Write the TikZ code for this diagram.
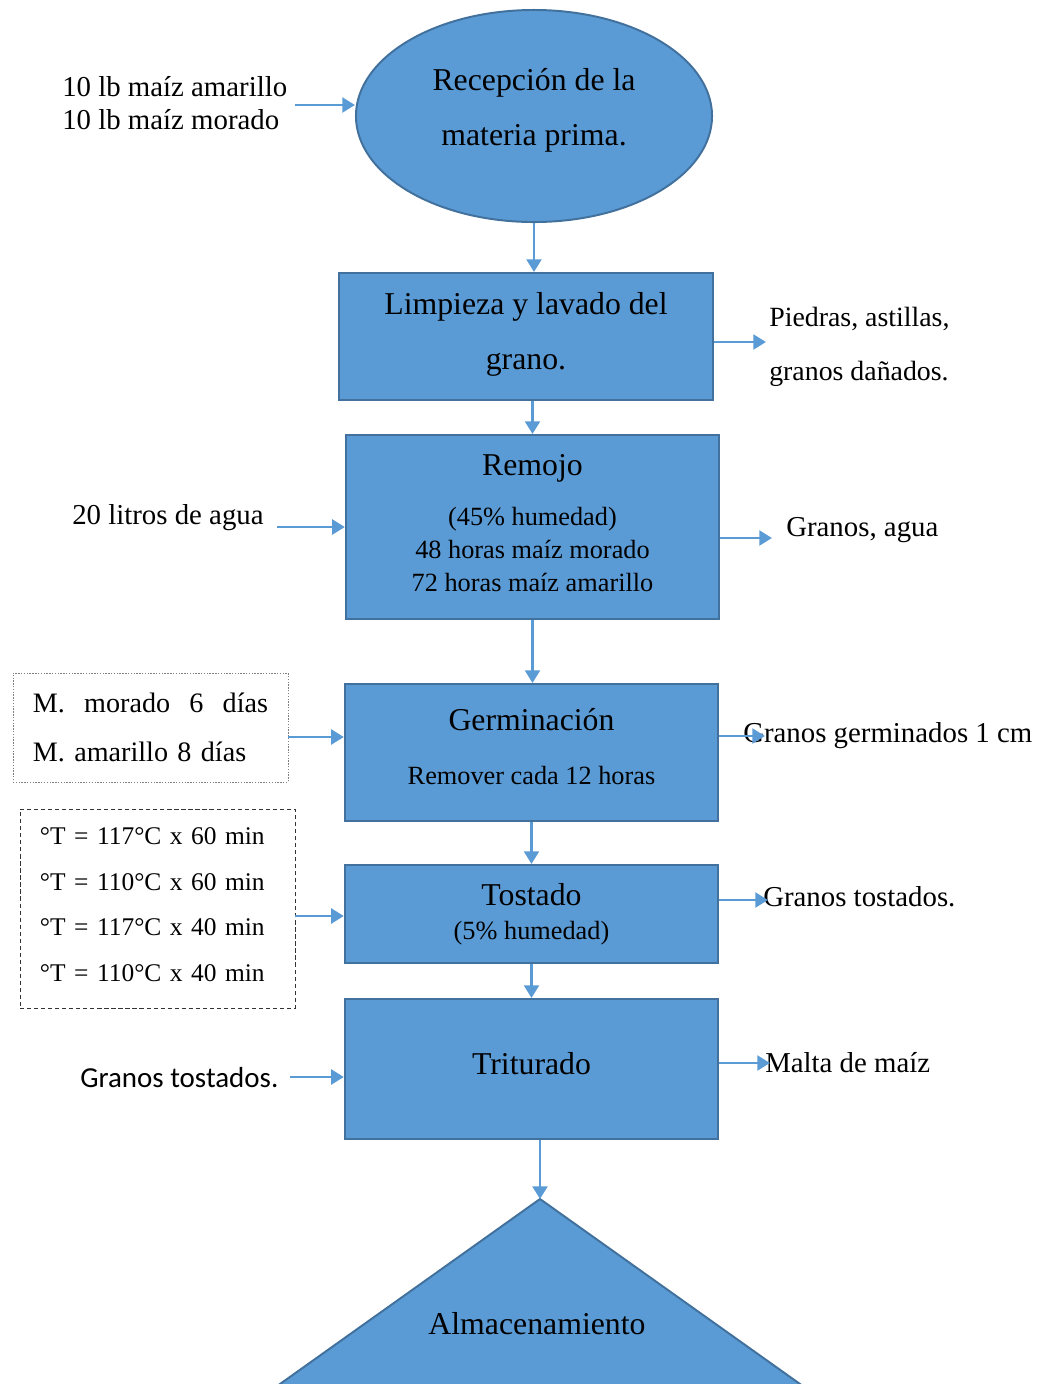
\documentclass[tikz,border=0pt]{standalone}
\usepackage{fontspec}
\setmainfont{Liberation Serif}
\newfontfamily\calibrifont{Carlito}
\usetikzlibrary{shapes.geometric,arrows.meta}
\definecolor{boxfill}{HTML}{5B9BD5}
\definecolor{boxline}{HTML}{41719C}
\definecolor{flowc}{HTML}{5B9BD5}
\newcommand{\mainsize}{\fontsize{22.6}{39}\selectfont}
\newcommand{\subsize}{\fontsize{18.7}{23.4}\selectfont}
\newcommand{\sidesize}{\fontsize{20.5}{24}\selectfont}

\tikzset{
  proc/.style={draw=boxline, fill=boxfill, line width=1.4pt, align=center, inner sep=0pt, minimum width=9.33cm},
  flow/.style={draw=flowc, line width=2pt, -{Triangle[length=9pt,width=10.5pt]}},
  side/.style={anchor=west, align=left, inner sep=0pt, font=\sidesize},
}

\begin{document}
\begin{tikzpicture}[x=0.025cm,y=-0.025cm]
\useasboundingbox (0,0) rectangle (1042,1384);

% etapas del proceso
\node[proc, ellipse, minimum width=8.9cm, minimum height=5.3cm, font=\mainsize, text depth=13.4pt] (rec) at (534,116) {Recepción de la\\materia prima.};
\node[proc, minimum width=9.35cm, minimum height=3.175cm, font=\mainsize, text depth=7.7pt] (limp) at (526,336.5) {Limpieza y lavado del\\grano.};
\node[proc, minimum height=4.6cm, font=\subsize, text depth=5.7pt] (rem) at (532.5,527) {{\mainsize Remojo}\\[12.6pt](45\% humedad)\\48 horas maíz morado\\72 horas maíz amarillo};
\node[proc, minimum height=3.425cm, font=\subsize, text depth=8.5pt] (germ) at (531.5,752.5) {{\mainsize Germinación}\\[14.6pt]Remover cada 12 horas};
\node[proc, minimum height=2.45cm, font=\subsize] (tost) at (531.5,914) {{\mainsize Tostado}\\[0.6pt](5\% humedad)};
\node[proc, minimum height=3.5cm, font=\mainsize, text depth=8.5pt] (trit) at (531.5,1069) {Triturado};

\coordinate (almtop) at (540,1199);
\filldraw[fill=boxfill, draw=boxline, line width=1.4pt] (almtop) -- (850.6,1420) -- (229.4,1420) -- cycle;
\node[font=\mainsize] (alm) at (537,1324) {Almacenamiento};

% entradas y salidas
\node[side] (in1) at (62,103) {10 lb maíz amarillo\\10 lb maíz morado};
\node[side, font=\fontsize{19.8}{38}\selectfont] (out1) at (769,347) {Piedras, astillas,\\granos dañados.};
\node[side] (in2) at (72,518) {20 litros de agua};
\node[side] (out2) at (786,530) {Granos, agua};
\node[draw=gray, dash pattern=on 1pt off 1pt, line width=0.6pt, align=left, inner xsep=0.5cm, inner ysep=0pt,
      text width=5.875cm, minimum height=2.725cm, font=\fontsize{20}{35.4}\selectfont] (dias) at (150.5,727.5)
      {\makebox[5.875cm][l]{M.\hfill morado\hfill 6\hfill días}\\M. amarillo 8 días};
\node[side] (out3) at (743,736) {Granos germinados 1 cm};
\node[draw=black!80, dash pattern=on 3pt off 2pt, line width=0.6pt, align=left, inner xsep=0.5cm, inner ysep=0pt,
      text width=5.875cm, minimum height=4.975cm, text depth=103.4pt, font=\fontsize{18.1}{32.6}\selectfont] (temp) at (157.5,908.5)
      {°T = 117°C x 60 min\\°T = 110°C x 60 min\\°T = 117°C x 40 min\\°T = 110°C x 40 min};
\node[side] (out4) at (763,897) {Granos tostados.};
\node[side, font=\calibrifont\fontsize{20.6}{24}\selectfont] (in5) at (80,1078) {Granos tostados.};
\node[side] (out5) at (765,1063) {Malta de maíz};

% flechas
\draw[flow] (rec.south) -- (rec.south |- limp.north);
\draw[flow] (limp.south -| rem.north) -- (rem.north);
\draw[flow] (rem.south) -- (rem.south |- germ.north);
\draw[flow] (germ.south) -- (germ.south |- tost.north);
\draw[flow] (tost.south) -- (tost.south |- trit.north);
\draw[flow] (trit.south -| almtop) -- (almtop);

\coordinate (i0) at (295,105);
\coordinate (o1) at (766,342);
\coordinate (i2) at (277,527);
\coordinate (o2) at (772,538);
\coordinate (i3) at (288,737);
\coordinate (o3) at (765,736);
\coordinate (i4) at (295,916);
\coordinate (o4) at (768,900);
\coordinate (i5) at (290,1077);
\coordinate (o5) at (770,1063);

\draw[flow] (i0) -- (i0 -| rec.west);
\draw[flow] (limp.east |- o1) -- (o1);
\draw[flow] (i2) -- (i2 -| rem.west);
\draw[flow] (rem.east |- o2) -- (o2);
\draw[flow] (dias.east |- i3) -- (i3 -| germ.west);
\draw[flow] (germ.east |- o3) -- (o3);
\draw[flow] (temp.east |- i4) -- (i4 -| tost.west);
\draw[flow] (tost.east |- o4) -- (o4);
\draw[flow] (i5) -- (i5 -| trit.west);
\draw[flow] (trit.east |- o5) -- (o5);

\end{tikzpicture}
\end{document}
